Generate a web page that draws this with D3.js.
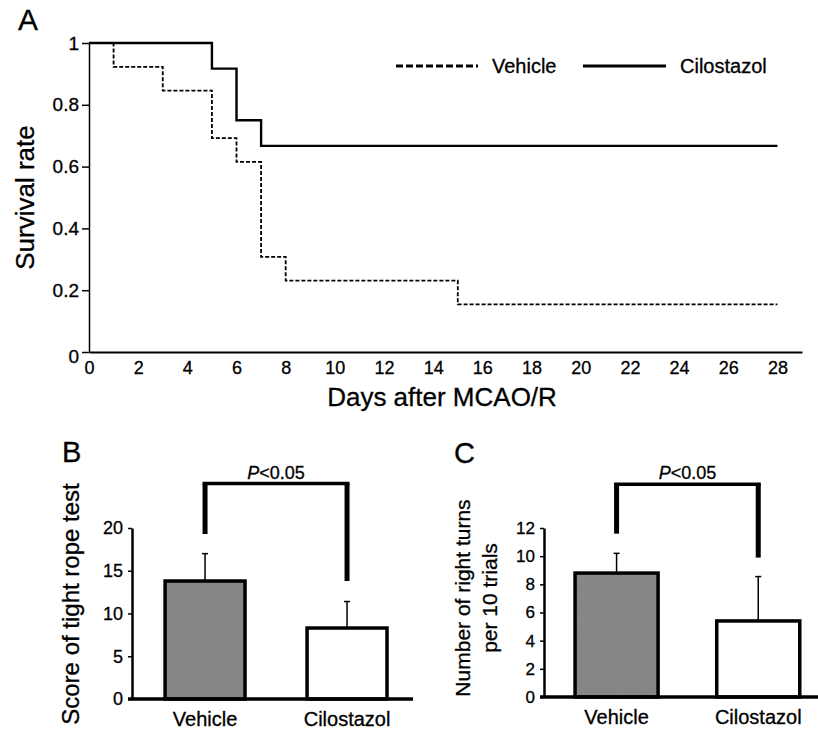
<!DOCTYPE html>
<html>
<head>
<meta charset="utf-8">
<script src="https://cdn.jsdelivr.net/npm/d3@7"></script>
<style>
  body { margin: 0; background: #fff; }
  svg { display: block; font-family: "Liberation Sans", Arial, sans-serif; }
  svg text { stroke: #000; stroke-width: 0.3px; fill: #000; }
  .axis path, .axis line { stroke: #000; }
  .axis text { font-family: "Liberation Sans", Arial, sans-serif; fill: #000; }
</style>
</head>
<body>
<div id="chart"></div>
<script>
// panel A: Kaplan-Meier survival
var days = [0, 1, 3, 5, 6, 7, 8, 15, 28]
var vehicleSurv = [1, 0.923, 0.846, 0.692, 0.615, 0.308, 0.231, 0.154, 0.154]
var cilostazolSurv = [1, 1, 1, 0.917, 0.75, 0.667, 0.667, 0.667, 0.667]
var survTicks = [0, 0.2, 0.4, 0.6, 0.8, 1]
var dayTicks = d3.range(0, 29, 2)

// panels B and C: bar charts
var groups = ["Vehicle", "Cilostazol"]
var ropeMean = [13.8, 8.3]
var ropeSD = [3.2, 3.1]
var ropeTicks = [0, 5, 10, 15, 20]
var ropeBracket = [19.3, 25.2, 13.8]   // left leg end, top, right leg end
var turnsMean = [8.8, 5.4]
var turnsSD = [1.4, 3.15]
var turnsTicks = [0, 2, 4, 6, 8, 10, 12]
var turnsBracket = [11.6, 15.1, 9.9]

var svgWidth = 818
var svgHeight = 730

var svg = d3.select("#chart").append("svg").attr("width", svgWidth).attr("height", svgHeight)

// ---------- A ----------
var xA = d3.scaleLinear().domain([0, 29]).range([89, 802])
var yA = d3.scaleLinear().domain([0, 1]).range([352, 43])

svg.append("text").attr("x", 18).attr("y", 30).attr("font-size", 30).text("A")

var axA = svg.append("g").attr("class", "axis").attr("transform", "translate(0,352)")
    .call(d3.axisBottom(xA).tickValues(dayTicks).tickSize(0).tickPadding(9))
axA.select(".domain").attr("stroke-width", 2)
axA.selectAll("text").attr("font-size", 18)

var ayA = svg.append("g").attr("class", "axis").attr("transform", "translate(89,0)")
    .call(d3.axisLeft(yA).tickValues(survTicks).tickSize(7).tickSizeOuter(0).tickPadding(3)
        .tickFormat(d => (d === 0 || d === 1) ? d : d.toFixed(1)))
ayA.select(".domain").attr("stroke-width", 1.5)
ayA.selectAll("line").attr("stroke-width", 1.5)
ayA.selectAll("text").attr("font-size", 19)
ayA.selectAll(".tick").filter(d => d === 0).select("text").attr("dy", "0.55em")

svg.append("text")
    .attr("transform", `translate(34, ${(yA(1) + yA(0)) / 2}) rotate(-90)`)
    .attr("text-anchor", "middle").attr("font-size", 26)
    .text("Survival rate")

svg.append("text")
    .attr("x", 442).attr("y", 406)
    .attr("text-anchor", "middle").attr("font-size", 26)
    .text("Days after MCAO/R")

var step = d3.line().x(d => xA(d[0])).y(d => yA(d[1])).curve(d3.curveStepAfter)

svg.append("path")
    .datum(days.map((d, i) => [d, cilostazolSurv[i]]))
    .attr("d", step).attr("fill", "none").attr("stroke", "#000").attr("stroke-width", 2.4)

svg.append("path")
    .datum(days.map((d, i) => [d, vehicleSurv[i]]))
    .attr("d", step).attr("fill", "none").attr("stroke", "#000").attr("stroke-width", 1.8)
    .attr("stroke-dasharray", "4,2")

// legend
var legend = svg.append("g").attr("font-size", 20)
legend.append("line").attr("x1", 396).attr("x2", 478).attr("y1", 66).attr("y2", 66)
    .attr("stroke", "#000").attr("stroke-width", 3).attr("stroke-dasharray", "7,3")
legend.append("text").attr("x", 492).attr("y", 73).text("Vehicle")
legend.append("line").attr("x1", 583).attr("x2", 666).attr("y1", 66).attr("y2", 66)
    .attr("stroke", "#000").attr("stroke-width", 3)
legend.append("text").attr("x", 680).attr("y", 73).text("Cilostazol")

// grain texture for the grey bar
var defs = svg.append("defs")
var filt = defs.append("filter").attr("id", "noise").attr("x", 0).attr("y", 0).attr("width", "100%").attr("height", "100%")
filt.append("feTurbulence").attr("type", "fractalNoise").attr("baseFrequency", 0.9).attr("numOctaves", 1).attr("seed", 3)
filt.append("feColorMatrix").attr("type", "matrix")
    .attr("values", "0 0 0 0 0.25  0 0 0 0 0.25  0 0 0 0 0.25  0 0 0 -1.4 1.0")
var pat = defs.append("pattern").attr("id", "grain").attr("patternUnits", "userSpaceOnUse")
    .attr("width", 120).attr("height", 120)
pat.append("rect").attr("width", 120).attr("height", 120).attr("fill", "#858585")
pat.append("rect").attr("width", 120).attr("height", 120).attr("filter", "url(#noise)")

// ---------- bar panels ----------
function barPanel(opt) {
    var g = svg.append("g")
    var x = d3.scaleBand().domain(groups).range(opt.xRange)
        .paddingInner(opt.padIn).paddingOuter(opt.padOut).align(opt.align)
    var y = d3.scaleLinear().domain(opt.yDomain).range(opt.yRange)
    var mid = d => x(d) + x.bandwidth() / 2

    g.append("text").attr("x", opt.letterX).attr("y", opt.letterY).attr("font-size", 29).text(opt.letter)

    // error bars
    g.selectAll(".err").data(groups).enter().append("line")
        .attr("x1", mid).attr("x2", mid)
        .attr("y1", (d, i) => y(opt.mean[i])).attr("y2", (d, i) => y(opt.mean[i] + opt.sd[i]))
        .attr("stroke", "#000").attr("stroke-width", 1.5)
    g.selectAll(".cap").data(groups).enter().append("line")
        .attr("x1", d => mid(d) - 3).attr("x2", d => mid(d) + 3)
        .attr("y1", (d, i) => y(opt.mean[i] + opt.sd[i])).attr("y2", (d, i) => y(opt.mean[i] + opt.sd[i]))
        .attr("stroke", "#000").attr("stroke-width", 1.5)

    // bars
    g.selectAll(".bar").data(groups).enter().append("rect")
        .attr("x", d => x(d)).attr("width", x.bandwidth())
        .attr("y", (d, i) => y(opt.mean[i]))
        .attr("height", (d, i) => y(0) - y(opt.mean[i]))
        .attr("fill", (d, i) => i === 0 ? "url(#grain)" : "#fff")
        .attr("stroke", "#000").attr("stroke-width", 3.5)

    // y axis
    var ay = g.append("g").attr("class", "axis").attr("transform", `translate(${opt.xRange[0]},0)`)
        .call(d3.axisLeft(y).tickValues(opt.ticks).tickSize(4).tickSizeOuter(0).tickPadding(5))
    ay.select(".domain").attr("stroke-width", 2.5)
    ay.selectAll("line").attr("stroke-width", 1.5)
    ay.selectAll("text").attr("font-size", opt.tickFont)

    // baseline + category labels
    var ax = g.append("g").attr("class", "axis").attr("transform", `translate(0,${y(0)})`)
        .call(d3.axisBottom(x).tickSize(0).tickPadding(13))
    ax.select(".domain").remove()
    ax.selectAll("text").attr("font-size", 20)
    g.append("line").attr("x1", opt.xRange[0] - 4).attr("x2", opt.baseEnd)
        .attr("y1", y(0)).attr("y2", y(0)).attr("stroke", "#000").attr("stroke-width", 3.5)

    // significance bracket
    var xl = mid(groups[0])
    var xr = mid(groups[1])
    var b = opt.bracket
    g.append("line").attr("x1", xl).attr("x2", xl).attr("y1", y(b[0])).attr("y2", y(b[1]))
        .attr("stroke", "#000").attr("stroke-width", 5)
    g.append("line").attr("x1", xr).attr("x2", xr).attr("y1", y(b[2])).attr("y2", y(b[1]))
        .attr("stroke", "#000").attr("stroke-width", 5)
    g.append("line").attr("x1", xl - 2.5).attr("x2", xr + 2.5).attr("y1", y(b[1])).attr("y2", y(b[1]))
        .attr("stroke", "#000").attr("stroke-width", 3.5)
    var pt = g.append("text").attr("x", (xl + xr) / 2).attr("y", y(b[1]) - 5)
        .attr("text-anchor", "middle").attr("font-size", 18)
    pt.append("tspan").attr("font-style", "italic").text("P")
    pt.append("tspan").text("<0.05")

    // y title
    var t = g.append("text")
        .attr("transform", `translate(${opt.titleX}, ${opt.titleY}) rotate(-90)`)
        .attr("text-anchor", "middle").attr("font-size", opt.titleFont)
    opt.title.forEach((line, i) => {
        t.append("tspan").attr("x", 0).attr("dy", i === 0 ? 0 : opt.titleFont * 1.3).text(line)
    })
}

barPanel({
    letter: "B", letterX: 62, letterY: 462,
    xRange: [132, 413], padIn: 0.437, padOut: 0.208, align: 0.56, baseEnd: 413,
    yDomain: [0, 20], yRange: [699, 528],
    mean: ropeMean, sd: ropeSD, ticks: ropeTicks, bracket: ropeBracket, tickFont: 18,
    title: ["Score of tight rope test"], titleX: 79, titleY: 604, titleFont: 24
})

barPanel({
    letter: "C", letterX: 454, letterY: 463,
    xRange: [544, 818], padIn: 0.414, padOut: 0.174, align: 0.63, baseEnd: 818,
    yDomain: [0, 12], yRange: [697, 528],
    mean: turnsMean, sd: turnsSD, ticks: turnsTicks, bracket: turnsBracket, tickFont: 17,
    title: ["Number of right turns", "per 10 trials"], titleX: 470, titleY: 598, titleFont: 21
})
</script>
</body>
</html>
